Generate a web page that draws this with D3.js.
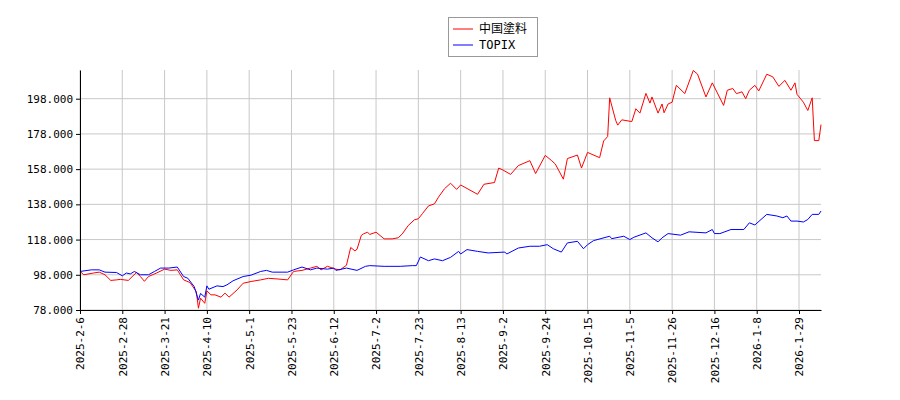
<!DOCTYPE html><html><head><meta charset="utf-8"><script src="https://cdn.jsdelivr.net/npm/d3@7"></script>
<style>body{margin:0;background:#fff}text{font-family:"DejaVu Sans Mono",monospace;font-size:11px}</style></head><body><svg id="c" width="900" height="400"></svg><script>
const tickDates=["2025-02-06","2025-02-28","2025-03-21","2025-04-10","2025-05-01","2025-05-23","2025-06-12","2025-07-02","2025-07-23","2025-08-13","2025-09-02","2025-09-24","2025-10-15","2025-11-05","2025-11-26","2025-12-16","2026-01-08","2026-01-29"];
const tickLabels=["2025-2-6","2025-2-28","2025-3-21","2025-4-10","2025-5-1","2025-5-23","2025-6-12","2025-7-2","2025-7-23","2025-8-13","2025-9-2","2025-9-24","2025-10-15","2025-11-5","2025-11-26","2025-12-16","2026-1-8","2026-1-29"];
const endDate="2026-02-08";
const yTicks=[78,98,118,138,158,178,198];
const seriesNames=["中国塗料","TOPIX"];
const redData=[["2025-02-06",99.9],["2025-02-08",98],["2025-02-13",99],["2025-02-16",99.5],["2025-02-19",98],["2025-02-22",94.8],["2025-02-25",95.1],["2025-02-27",95.4],["2025-03-03",94.8],["2025-03-07",99.3],["2025-03-09",97],["2025-03-11",94.3],["2025-03-13",97],["2025-03-17",99],["2025-03-21",101.2],["2025-03-24",100.5],["2025-03-27",100.8],["2025-03-30",95.1],["2025-04-02",93.6],["2025-04-05",88.5],["2025-04-06",79],["2025-04-07",84.7],["2025-04-09",81.8],["2025-04-10",88.9],["2025-04-12",86.6],["2025-04-14",86.6],["2025-04-17",85.3],["2025-04-19",87.6],["2025-04-21",85.3],["2025-04-25",89.4],["2025-04-28",93.2],["2025-05-02",94.2],["2025-05-07",95.1],["2025-05-11",96],["2025-05-16",95.6],["2025-05-21",95.1],["2025-05-24",99.9],["2025-05-28",100.5],["2025-06-01",101.8],["2025-06-04",102.8],["2025-06-06",100.8],["2025-06-09",102.8],["2025-06-13",101.2],["2025-06-15",100.8],["2025-06-18",103.4],["2025-06-20",113.5],["2025-06-22",111.6],["2025-06-23",112.5],["2025-06-25",120.3],["2025-06-26",121.2],["2025-06-28",122.2],["2025-06-29",120.9],["2025-07-02",122.2],["2025-07-06",118.4],["2025-07-10",118.4],["2025-07-13",119],["2025-07-15",121.2],["2025-07-18",126],["2025-07-21",129.2],["2025-07-23",129.8],["2025-07-25",132.7],["2025-07-28",137.1],["2025-07-31",138.3],["2025-08-02",142.1],["2025-08-05",146.9],["2025-08-08",150],["2025-08-11",146.5],["2025-08-13",149],["2025-08-21",143.7],["2025-08-24",149.4],["2025-08-29",150.4],["2025-08-31",158.6],["2025-09-02",157.5],["2025-09-06",155],["2025-09-10",160],["2025-09-16",162.8],["2025-09-19",155.5],["2025-09-24",165.8],["2025-09-27",163],["2025-09-29",160.9],["2025-10-03",152.3],["2025-10-05",164],["2025-10-10",166],["2025-10-12",158.6],["2025-10-15",167.5],["2025-10-21",164.5],["2025-10-23",174],["2025-10-25",176.5],["2025-10-26",198.5],["2025-10-29",185.6],["2025-10-30",183],["2025-11-01",186],["2025-11-06",185],["2025-11-08",192.3],["2025-11-10",189.8],["2025-11-13",201],["2025-11-15",195.5],["2025-11-16",199],["2025-11-19",189.8],["2025-11-21",195],["2025-11-22",190],["2025-11-24",195],["2025-11-26",196],["2025-11-28",205.6],["2025-12-02",200.9],["2025-12-06",214],["2025-12-08",212],["2025-12-12",199],["2025-12-15",207],["2025-12-21",194.2],["2025-12-23",202.8],["2025-12-26",203.8],["2025-12-28",200.9],["2025-12-31",201.9],["2026-01-02",198],["2026-01-04",202.8],["2026-01-07",205.6],["2026-01-09",202.4],["2026-01-13",211.9],["2026-01-16",210.4],["2026-01-19",205],["2026-01-22",208.4],["2026-01-25",202.8],["2026-01-27",207],["2026-01-28",200.5],["2026-01-31",196],["2026-02-02",191.3],["2026-02-04",198.5],["2026-02-05",174.2],["2026-02-07",174.2],["2026-02-08",183.3]];
const blueData=[["2025-02-06",99.9],["2025-02-12",100.8],["2025-02-16",100.8],["2025-02-19",99.5],["2025-02-25",99.3],["2025-02-28",97.4],["2025-03-02",99],["2025-03-04",98.5],["2025-03-06",99.9],["2025-03-09",98],["2025-03-13",98],["2025-03-16",99.9],["2025-03-19",101.8],["2025-03-23",101.8],["2025-03-27",102.4],["2025-03-30",97],["2025-04-01",96],["2025-04-04",91.3],["2025-04-06",83.6],["2025-04-07",87.4],["2025-04-09",85.3],["2025-04-10",91.7],["2025-04-11",89.8],["2025-04-15",91.7],["2025-04-18",91.3],["2025-04-20",92.3],["2025-04-23",94.6],["2025-04-28",97],["2025-05-02",97.8],["2025-05-07",99.9],["2025-05-10",100.5],["2025-05-13",99.5],["2025-05-21",99.5],["2025-05-24",100.8],["2025-05-28",102.4],["2025-06-01",100.8],["2025-06-04",101.8],["2025-06-09",101.2],["2025-06-12",101.8],["2025-06-13",100.5],["2025-06-18",101.8],["2025-06-23",100.5],["2025-06-27",102.8],["2025-06-29",103.2],["2025-07-06",102.8],["2025-07-14",102.8],["2025-07-20",103.2],["2025-07-22",103.2],["2025-07-24",108.1],["2025-07-28",106],["2025-07-31",107],["2025-08-04",106],["2025-08-08",107.9],["2025-08-12",111.3],["2025-08-13",109.8],["2025-08-16",112.3],["2025-08-21",111.3],["2025-08-26",110.4],["2025-09-03",110.9],["2025-09-04",109.8],["2025-09-10",113.2],["2025-09-16",114.2],["2025-09-21",114.2],["2025-09-25",115.1],["2025-09-28",112.8],["2025-10-02",110.9],["2025-10-05",116.1],["2025-10-10",117],["2025-10-13",112.8],["2025-10-15",115.1],["2025-10-18",117.4],["2025-10-26",119.9],["2025-10-27",118.5],["2025-11-02",119.9],["2025-11-05",118],["2025-11-07",119.3],["2025-11-13",121.8],["2025-11-16",119],["2025-11-19",116.7],["2025-11-21",119],["2025-11-24",121.4],["2025-11-30",120.5],["2025-12-04",122.4],["2025-12-12",121.8],["2025-12-15",123.7],["2025-12-16",121.4],["2025-12-19",121.4],["2025-12-25",123.7],["2026-01-01",123.7],["2026-01-04",127.5],["2026-01-07",126.3],["2026-01-13",132.3],["2026-01-18",131.4],["2026-01-21",130.4],["2026-01-23",131.4],["2026-01-25",128.5],["2026-01-28",128.5],["2026-01-31",128],["2026-02-02",129.4],["2026-02-04",132.3],["2026-02-07",132.3],["2026-02-08",134.2]];
const P=d3.timeParse("%Y-%m-%d");
const L=80,R=821,T=70,B=310;
const step=(799-L)/17;
const xDom=tickDates.concat([endDate]).map(P);
const xRng=tickDates.map((d,i)=>L+i*step).concat([R]);
const x=d3.scaleTime().domain(xDom).range(xRng);
const y=d3.scaleLinear().domain([78,214.3]).range([B,T]);
const svg=d3.select("#c");
const g=svg.append("g");
// grid
g.selectAll(".gx").data(tickDates).join("line").attr("x1",d=>x(P(d))).attr("x2",d=>x(P(d))).attr("y1",T).attr("y2",B).attr("stroke","#c8c8c8");
g.selectAll(".gy").data(yTicks).join("line").attr("x1",L).attr("x2",R).attr("y1",d=>y(d)).attr("y2",d=>y(d)).attr("stroke","#c8c8c8");
const ln=d3.line().x(d=>x(P(d[0]))).y(d=>y(d[1]));
g.append("path").datum(redData).attr("d",ln).attr("fill","none").attr("stroke","#ff0000").attr("stroke-width",1);
g.append("path").datum(blueData).attr("d",ln).attr("fill","none").attr("stroke","#0000ff").attr("stroke-width",1);
const xa=svg.append("g").attr("transform",`translate(0,${B})`).call(d3.axisBottom(x).tickValues(tickDates.map(P)).tickFormat((d,i)=>tickLabels[i]).tickSize(4).tickSizeOuter(0));
xa.selectAll("text").attr("transform","rotate(-90)").attr("text-anchor","end").attr("x",-7).attr("y",0).attr("dy","0.35em").style("font-family","DejaVu Sans Mono").style("font-size","11px").attr("fill","#000");
const ya=svg.append("g").attr("transform",`translate(${L},0)`).call(d3.axisLeft(y).tickValues(yTicks).tickFormat(d3.format(".3f")).tickSize(4).tickSizeOuter(0));
ya.selectAll("text").style("font-family","DejaVu Sans Mono").style("font-size","11px").attr("fill","#000");
[xa,ya].forEach(a=>{a.select(".domain").attr("stroke","#000");a.selectAll("line").attr("stroke","#000");});
// legend
const lg=svg.append("g");
lg.append("rect").attr("x",448.5).attr("y",17.5).attr("width",89).attr("height",39).attr("fill","#fff").attr("stroke","#999");
const cols=["#ff0000","#0000ff"];
seriesNames.forEach((n,i)=>{const yy=29+i*16;
lg.append("line").attr("x1",453).attr("x2",473).attr("y1",yy).attr("y2",yy).attr("stroke",cols[i]);
lg.append("text").attr("x",479).attr("y",yy).attr("dy","0.35em").text(n).style("font-family",i==0?"Noto Sans CJK JP":"DejaVu Sans Mono").style("font-size","12px");});
</script></body></html>
